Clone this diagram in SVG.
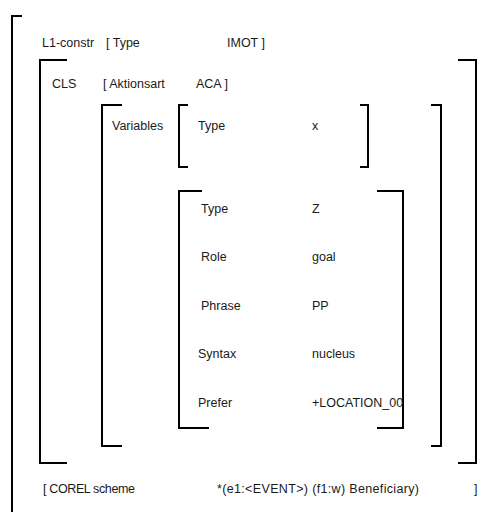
<svg xmlns="http://www.w3.org/2000/svg" width="498" height="512" viewBox="0 0 498 512">
<style>
.b{fill:none;stroke:#000;stroke-width:2}
text{font-family:"Liberation Sans",Arial,sans-serif;font-size:12.5px;fill:#1a1a1a}
</style>
<rect width="498" height="512" fill="#fff"/>
<g id="outer">
<path class="b" d="M22,16 H12 V512"/>
<text x="42" y="47">L1-constr</text>
<text x="106" y="47">[ Type</text>
<text x="227" y="47">IMOT ]</text>
<text x="43" y="493" textLength="92" lengthAdjust="spacing">[ COREL scheme</text>
<text x="217" y="493" textLength="202" lengthAdjust="spacing">*(e1:&lt;EVENT&gt;) (f1:w) Beneficiary)</text>
<text x="474" y="493">]</text>
</g>
<g id="cls">
<path class="b" d="M67,60 H40 V463 H67"/>
<path class="b" d="M458,60 H476 V463 H458"/>
<text x="52" y="88">CLS</text>
<text x="103" y="88">[ Aktionsart</text>
<text x="196" y="88">ACA ]</text>
</g>
<g id="variables">
<path class="b" d="M122,105 H102 V446 H122"/>
<path class="b" d="M431,105 H441 V446 H431"/>
<text x="112" y="130">Variables</text>
</g>
<g id="var-x">
<path class="b" d="M188,105 H179 V167 H188"/>
<path class="b" d="M360,105 H368 V167 H360"/>
<text x="198" y="130">Type</text>
<text x="312" y="130">x</text>
</g>
<g id="var-z">
<path class="b" d="M202,191 H179 V428 H209"/>
<path class="b" d="M377,191 H403 V428 H377"/>
<text x="201" y="213">Type</text>
<text x="312" y="213">Z</text>
<text x="201" y="261">Role</text>
<text x="312" y="261">goal</text>
<text x="201" y="310">Phrase</text>
<text x="312" y="310">PP</text>
<text x="198" y="358">Syntax</text>
<text x="312" y="358">nucleus</text>
<text x="198" y="407">Prefer</text>
<text x="312" y="407">+LOCATION_00</text>
</g>
</svg>
